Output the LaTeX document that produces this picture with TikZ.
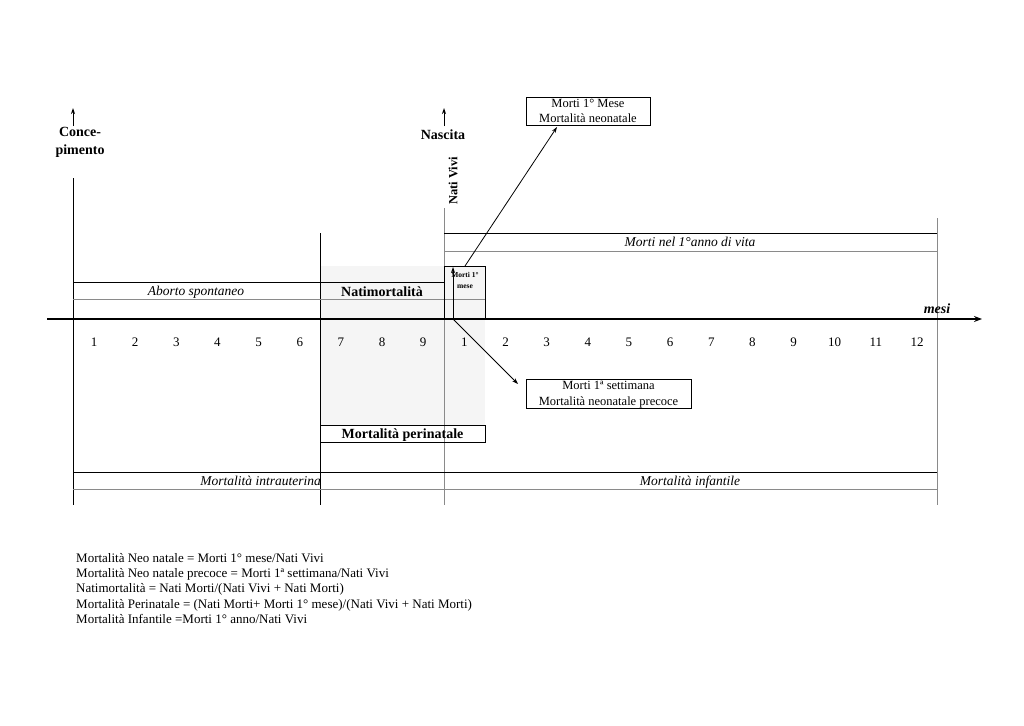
\documentclass[tikz,border=0pt]{standalone}
\usepackage{fontspec}
\setmainfont{Liberation Serif}
\usetikzlibrary{arrows.meta}
\definecolor{gl}{HTML}{8A8A8A}
\definecolor{shadec}{HTML}{F5F5F5}
\begin{document}
\begin{tikzpicture}[x=1pt,y=-1pt,
  blk/.style={line width=1pt,black},
  gry/.style={line width=1pt,gl},
  tipA/.style={-{Stealth[length=6pt,width=4pt]}},
  lbl/.style={font=\fontsize{13}{15}\selectfont,inner sep=0pt,anchor=base},
  bl/.style={font=\fontsize{14}{16}\selectfont\bfseries,inner sep=0pt},
  itl/.style={font=\fontsize{13.5}{15}\selectfont\itshape,inner sep=0pt,anchor=base},
  boxn/.style={draw,line width=0.9pt,inner sep=0pt,align=center,font=\fontsize{12.5}{15.5}\selectfont}]
\useasboundingbox (0,0) rectangle (1024,725);
% shading
\fill[shadec] (320,266) rectangle (485,425);
% vertical lines
\draw[blk] (73,178) -- (73,505);
\draw[blk] (320,233) -- (320,505);
\draw[gry] (444,208) -- (444,505);
\draw[gry] (937,218) -- (937,505);
% top arrows and labels
\coordinate (c0) at (73,126);
\coordinate (c1) at (73,108);
\draw[blk,tipA] (c0) -- (c1);
\node[bl,align=center,font=\fontsize{14}{18}\selectfont\bfseries] (conc) at (80,142) {Conce-\\pimento};
\coordinate (n0) at (444,126);
\coordinate (n1) at (444,108);
\draw[blk,tipA] (n0) -- (n1);
\node[bl] (nasc) at (443,135) {Nascita};
\node[bl,rotate=90,font=\fontsize{12.5}{14}\selectfont\bfseries] (vivi) at (453,181) {Nati Vivi};
% bands top
\draw[blk] (73,282) -- (444,282);
\draw[gry] (73,299.5) -- (485,299.5);
\node[itl] (abo) at (196,295.5) {Aborto spontaneo};
\node[bl,anchor=base] (nati) at (382,296) {Natimortalità};
\draw[blk] (444,233) -- (937,233);
\draw[gry] (444,251) -- (937,251);
\node[itl] (mnel) at (690,246.5) {Morti nel 1°anno di vita};
% small box
\node[draw,line width=0.9pt,minimum width=41pt,minimum height=53pt,inner sep=0pt] (sb) at (464.5,292.5) {};
\node[font=\fontsize{7.5}{11}\selectfont\bfseries,align=center,inner sep=0pt,anchor=north] (sbt) at (465,272) {Morti 1°\\mese};
% axis
\coordinate (a0) at (47,319);
\coordinate (a1) at (982,319);
\draw[line width=2.8pt,-{Stealth[length=8pt,width=6pt]}] (a0) -- (a1);
\node[font=\fontsize{14}{16}\selectfont\bfseries\itshape,inner sep=0pt,anchor=base] (mesi) at (937,313) {mesi};
% numbers
\foreach \n [count=\i from 0] in {1,2,3,4,5,6,7,8,9,1,2,3,4,5,6,7,8,9,10,11,12}
  \node[lbl] (num\i) at ({94+41.15*\i},346) {\n};
% boxes
\node[boxn,minimum width=124pt,minimum height=28pt] (bm) at (588,111) {Morti 1° Mese\\Mortalità neonatale};
\node[boxn,minimum width=165pt,minimum height=29pt,text depth=0pt] (bs) at (608.5,393.5) {Morti 1ª settimana\\Mortalità neonatale precoce};
\node[draw,line width=0.9pt,minimum width=165pt,minimum height=17pt,inner sep=0pt,bl,text height=9.5pt,text depth=0pt] (bp) at (402.5,433.5) {Mortalità perinatale};
% arrows
\coordinate (s0) at (465,266);
\coordinate (s1) at (557,127);
\draw[line width=0.8pt,tipA] (s0) -- (s1);
\coordinate (u0) at (453,319);
\coordinate (u1) at (453,267);
\draw[line width=0.8pt,tipA] (u0) -- (u1);
\coordinate (d1) at (518,384);
\draw[line width=0.8pt,tipA] (u0) -- (d1);
% bottom bands
\draw[blk] (73,472) -- (937,472);
\draw[gry] (73,489.5) -- (937,489.5);
\node[itl,anchor=base east] (intra) at (321,485.5) {Mortalità intrauterina};
\node[itl] (inf) at (690,485.5) {Mortalità infantile};
% formulas
\node[anchor=north west,align=left,inner sep=0pt,font=\fontsize{13}{15.3}\selectfont] (form) at (76,553) {Mortalità Neo natale = Morti 1° mese/Nati Vivi\\
Mortalità Neo natale precoce = Morti 1ª settimana/Nati Vivi\\
Natimortalità = Nati Morti/(Nati Vivi + Nati Morti)\\
Mortalità Perinatale = (Nati Morti+ Morti 1° mese)/(Nati Vivi + Nati Morti)\\
Mortalità Infantile =Morti 1° anno/Nati Vivi};
\end{tikzpicture}
\end{document}
